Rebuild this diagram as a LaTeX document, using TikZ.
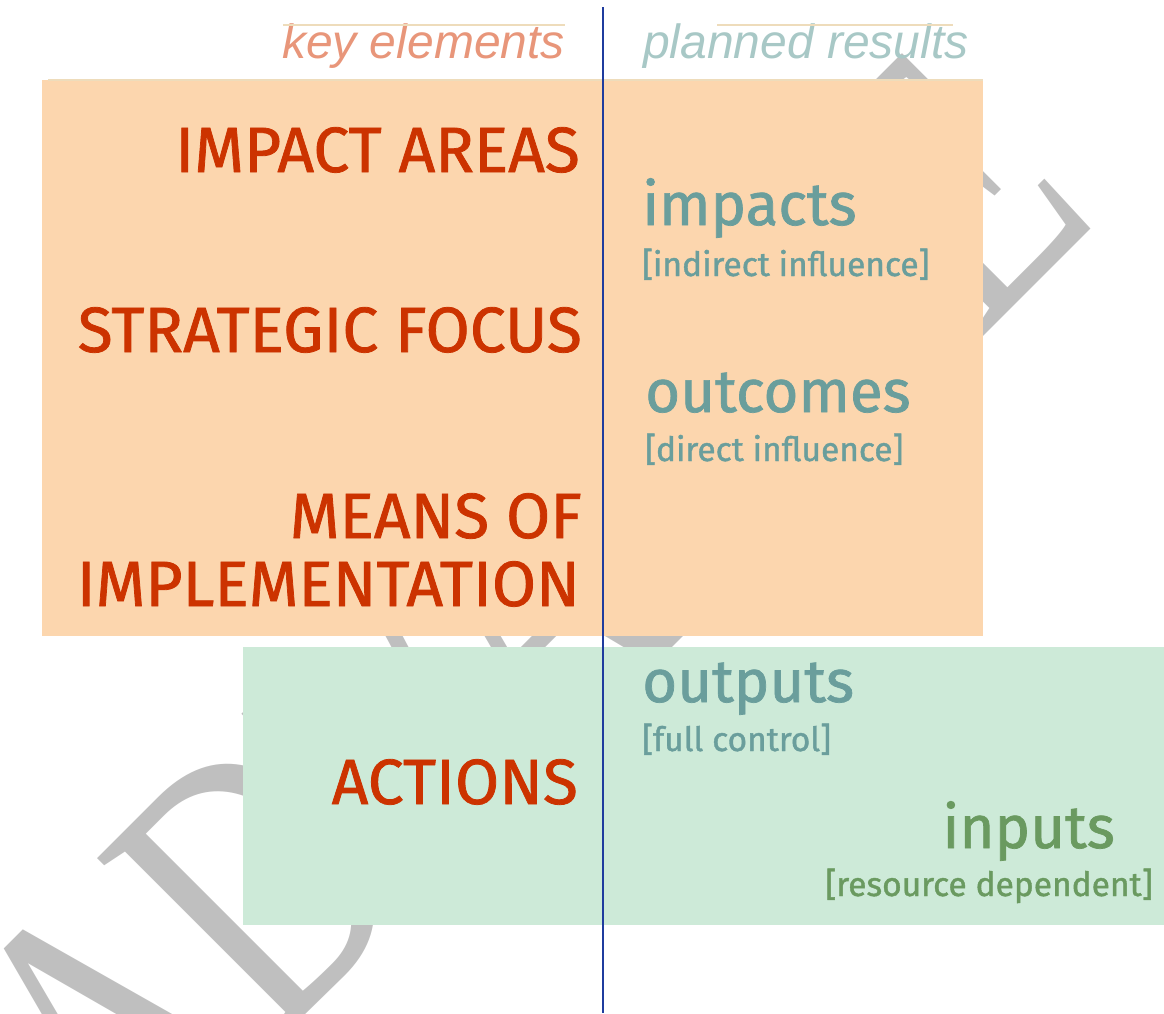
\documentclass[tikz,border=0pt]{standalone}
\usepackage{fontspec}
\newfontfamily\dinfont[FakeBold=1.2]{Fira Sans}
\newfontfamily\headfont{Liberation Sans}
\newfontfamily\markfont{Liberation Serif}
\definecolor{peachfill}{HTML}{FCD6AE}
\definecolor{mintfill}{HTML}{CDEAD8}
\definecolor{elemred}{HTML}{CC3300}
\definecolor{resteal}{HTML}{6A9E9C}
\definecolor{inputgreen}{HTML}{6A9A60}
\definecolor{keysalmon}{HTML}{E8967A}
\definecolor{plangray}{HTML}{A8C8C6}
\definecolor{divblue}{HTML}{1F3C9E}
\definecolor{markgray}{HTML}{BFBFBF}
\tikzset{
  element/.style={anchor=base east, inner sep=0, text=elemred,
    font=\dinfont\fontsize{64}{64}\selectfont},
  result/.style={anchor=base west, inner sep=0, text=resteal,
    font=\dinfont\fontsize{60}{60}\selectfont},
  remark/.style={anchor=base west, inner sep=0, text=resteal,
    font=\dinfont\fontsize{33.5}{33.5}\selectfont},
  header/.style={inner sep=0, font=\headfont\itshape\fontsize{48}{48}\selectfont},
  watermark/.style={rotate=45, xscale=0.74, inner sep=0, text=markgray,
    font=\markfont\fontsize{393}{393}\selectfont},
  faintline/.style={draw=peachfill!70!mintfill, line width=1.2pt},
  divider/.style={draw=divblue, line width=1.8pt},
}

\begin{document}
\begin{tikzpicture}[x=1pt, y=-1pt]
  \useasboundingbox (0,0) rectangle (1164,1013);
  \clip (0,0) rectangle (1164,1013);

  % watermark behind everything
  \node[watermark, anchor=base west] (mark) at (124.5,1195.5) {ADVANCE};

  % the two bands
  \fill[peachfill] (42,80) rectangle (983,636);
  \fill[mintfill] (243,647) rectangle (1164,925);
  \draw[faintline] (48,80) -- (983,80);

  % column headers
  \node[header, anchor=base east, text=keysalmon] (keyhead) at (565,58) {key elements};
  \node[header, anchor=base west, text=plangray] (planhead) at (643,58) {planned results};
  \draw[faintline] (283,25) -- (565,25);
  \draw[faintline] (717,25) -- (953,25);

  % key elements
  \node[element] (impareas) at (580,172) {IMPACT AREAS};
  \node[element] (stratfocus) at (582,352) {STRATEGIC FOCUS};
  \node[element] (means) at (582,538) {MEANS OF};
  \node[element] (implement) at (580,606) {IMPLEMENTATION};
  \node[element] (actions) at (578,804) {ACTIONS};

  % planned results
  \node[result] (impacts) at (642,225) {impacts};
  \node[remark] (indirect) at (642,276) {[indirect influence]};
  \node[result] (outcomes) at (645,412) {outcomes};
  \node[remark] (direct) at (645,461) {[direct influence]};
  \node[result] (outputs) at (642,702) {outputs};
  \node[remark] (control) at (642,751) {[full control]};
  \node[result, anchor=base east, text=inputgreen] (inputs) at (1115,848) {inputs};
  \node[remark, anchor=base east, text=inputgreen] (resource) at (1153,896) {[resource dependent]};

  % dividing line
  \coordinate (divtop) at (603,7);
  \coordinate (divbot) at (603,1013);
  \draw[divider] (divtop) -- (divbot);
\end{tikzpicture}
\end{document}
